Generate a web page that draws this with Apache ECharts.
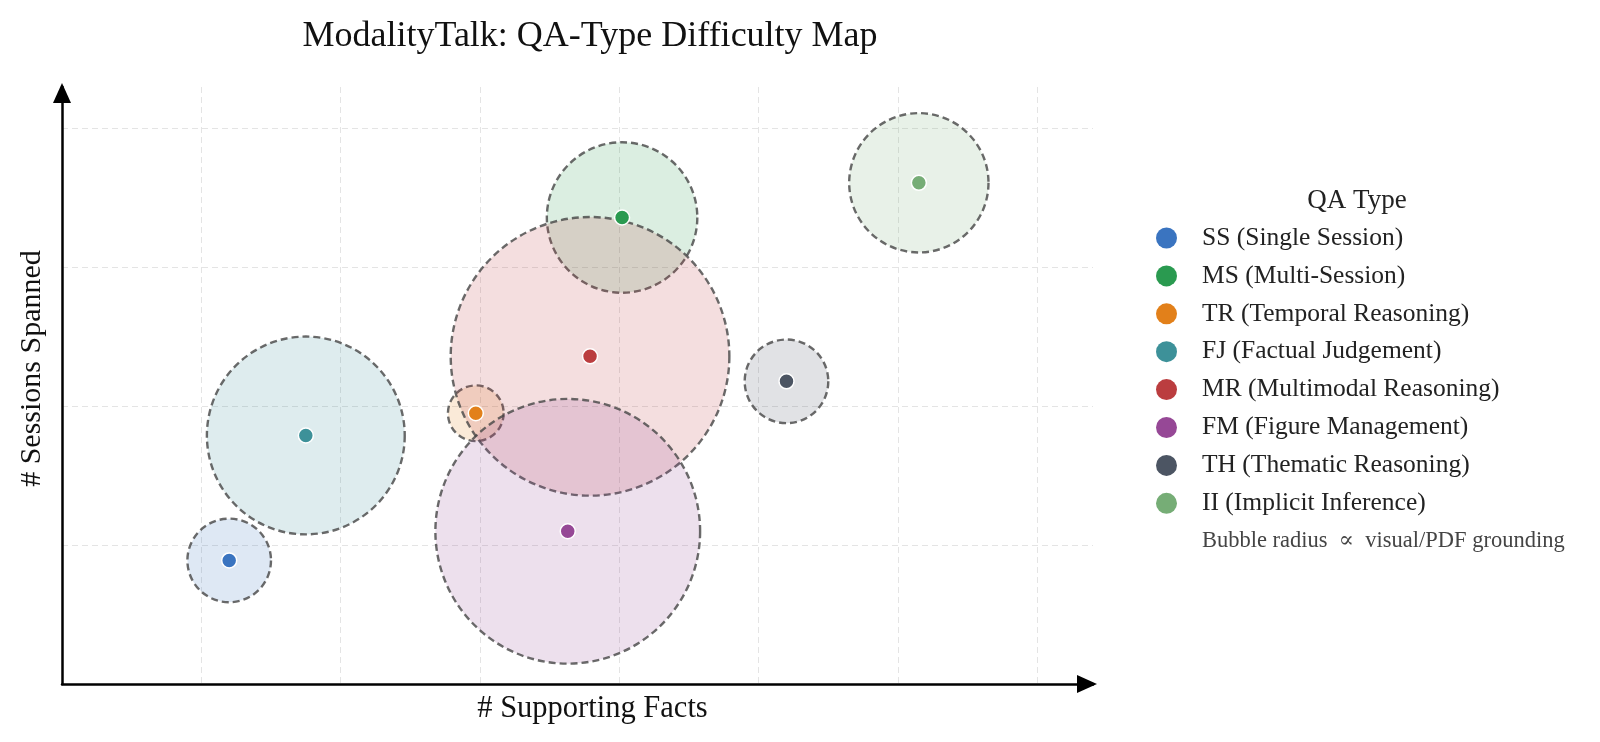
<!DOCTYPE html>
<html>
<head>
<meta charset="utf-8">
<title>ModalityTalk: QA-Type Difficulty Map</title>
<script src="https://cdn.jsdelivr.net/npm/echarts@6/dist/echarts.min.js"></script>
<style>
  html, body { margin: 0; padding: 0; background: #fff; }
  #main { width: 1600px; height: 742px; }
</style>
</head>
<body>
<div id="main"></div>
<script>
// QA types, in legend order
var qaTypes = [
  'SS (Single Session)',
  'MS (Multi-Session)',
  'TR (Temporal Reasoning)',
  'FJ (Factual Judgement)',
  'MR (Multimodal Reasoning)',
  'FM (Figure Management)',
  'TH (Thematic Reasoning)',
  'II (Implicit Inference)'
];
var typeColors = ['#3a74c0', '#2a9a50', '#e2801a', '#3d9199', '#bb3d3f', '#964896', '#4c5563', '#76ad76'];

// (axes carry no tick labels)
var supportingFacts = [1.20, 4.02, 2.97, 1.75, 3.79, 3.63, 5.20, 6.15];
var sessionsSpanned = [0.89, 3.36, 1.95, 1.79, 2.36, 1.10, 2.18, 3.61];
var grounding = [0.30, 0.54, 0.20, 0.71, 1.00, 0.95, 0.30, 0.50]; // bubble radius, axis units

var serif = '"Liberation Serif", "DejaVu Serif", serif';

function hexAlpha(hex, a) {
  var r = parseInt(hex.slice(1, 3), 16), g = parseInt(hex.slice(3, 5), 16), b = parseInt(hex.slice(5, 7), 16);
  return 'rgba(' + r + ',' + g + ',' + b + ',' + a + ')';
}

var chart = echarts.init(document.getElementById('main'));

var bubbleData = [];
for (var i = 0; i < qaTypes.length; i++) {
  bubbleData.push({
    value: [supportingFacts[i], sessionsSpanned[i], grounding[i]],
    itemStyle: { color: hexAlpha(typeColors[i], 0.21) }
  });
}

var series = [{
  id: 'bubbles',
  type: 'scatter',
  data: bubbleData,
  symbolSize: 10,
  z: 2,
  silent: true,
  itemStyle: {
    borderColor: '#454545',
    borderWidth: 2.4,
    borderType: [7, 4]
  }
}];

qaTypes.forEach(function (name, i) {
  series.push({
    name: name,
    type: 'scatter',
    z: 5,
    symbolSize: 15,
    data: [[supportingFacts[i], sessionsSpanned[i]]],
    itemStyle: { color: typeColors[i], borderColor: '#fff', borderWidth: 1.5, opacity: 1 },
    emphasis: { disabled: true }
  });
});

var splitStyle = { show: true, showMinLine: false, showMaxLine: false, lineStyle: { color: '#e4e4e4', width: 1, type: [6, 4] } };
var axisLineStyle = {
  show: true,
  symbol: ['none', 'triangle'],
  symbolSize: [18, 20],
  symbolOffset: [0, -6],
  lineStyle: { color: '#000', width: 2.5 }
};

var option = {
  animation: false,
  backgroundColor: '#fff',
  title: [{
    text: 'ModalityTalk: QA-Type Difficulty Map',
    left: 590, top: 19, textAlign: 'center', padding: 0,
    textStyle: { fontFamily: serif, fontSize: 36, fontWeight: 'normal', color: '#111' }
  }, {
    text: 'QA Type',
    left: 1357, top: 187, textAlign: 'center', padding: 0,
    textStyle: { fontFamily: serif, fontSize: 27, fontWeight: 'normal', color: '#222' }
  }, {
    text: 'Bubble radius  \u221d  visual/PDF grounding',
    left: 1202, top: 530, padding: 0,
    textStyle: { fontFamily: serif, fontSize: 22.5, fontWeight: 'normal', color: '#444' }
  }],
  legend: {
    orient: 'vertical',
    left: 1156, top: 225,
    padding: 0,
    icon: 'circle',
    itemWidth: 21, itemHeight: 21, itemGap: 11.9,
    itemStyle: { borderWidth: 0 },
    textStyle: { fontFamily: serif, fontSize: 25.5, color: '#222', padding: [0, 0, 0, 20] },
    data: qaTypes
  },
  grid: { left: 62, right: 507, top: 87, bottom: 58 },
  xAxis: {
    type: 'value', min: 0, max: 7.4, interval: 1,
    name: '# Supporting Facts', nameLocation: 'middle', nameGap: 9,
    nameTextStyle: { fontFamily: serif, fontSize: 30.5, color: '#111', padding: [0, 0, 0, 30] },
    axisLine: axisLineStyle,
    axisTick: { show: false }, axisLabel: { show: false },
    splitLine: splitStyle
  },
  yAxis: {
    type: 'value', min: 0, max: 4.3, interval: 1,
    name: '# Sessions Spanned', nameLocation: 'middle', nameGap: 15,
    nameTextStyle: { fontFamily: serif, fontSize: 30, color: '#111', padding: [0, 0, 0, 34] },
    axisLine: axisLineStyle,
    axisTick: { show: false }, axisLabel: { show: false },
    splitLine: splitStyle
  },
  series: series
};

chart.setOption(option);

// bubble radius is in axis units: turn it into pixels through the grid scale
var p0 = chart.convertToPixel({ gridIndex: 0 }, [0, 0]);
var p1 = chart.convertToPixel({ gridIndex: 0 }, [1, 0]);
var unitPx = p1[0] - p0[0];
chart.setOption({
  series: [{ id: 'bubbles', symbolSize: function (val) { return 2 * val[2] * unitPx; } }]
});
</script>
</body>
</html>
